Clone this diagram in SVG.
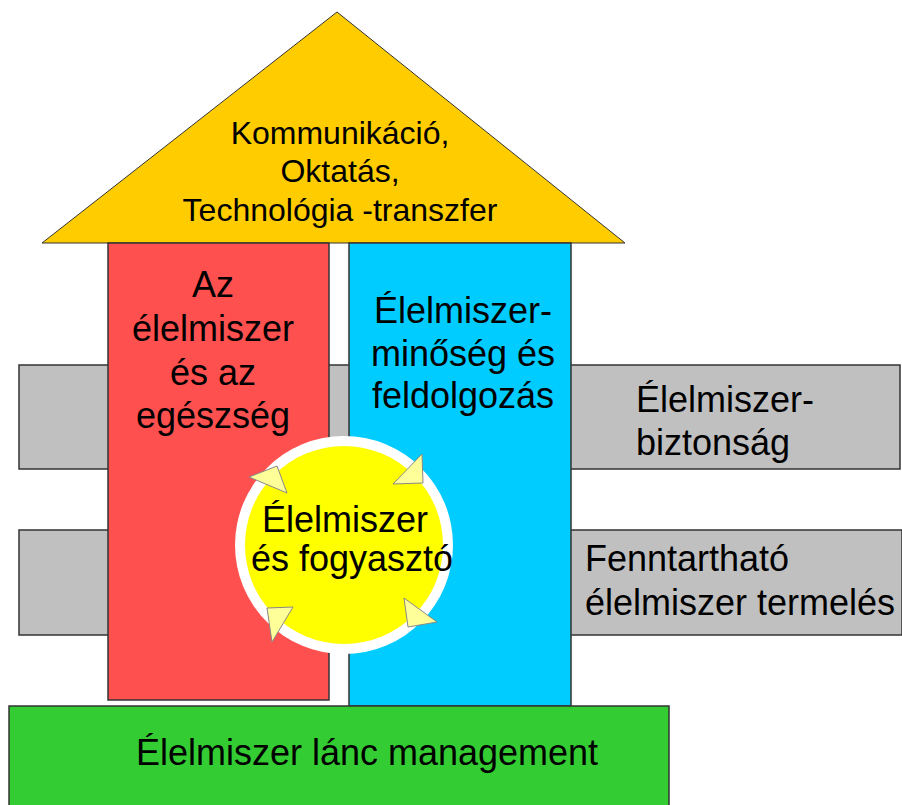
<svg xmlns="http://www.w3.org/2000/svg" width="902" height="805" viewBox="0 0 902 805">
<style>
text{font-family:"Liberation Sans",Arial,sans-serif;fill:#000;}
.t36{font-size:36px;}
.t32{font-size:32px;}
.mid{text-anchor:middle;}
.box{stroke:#333;stroke-width:1.5;}
.tri{fill:#FFFF99;stroke:#888;stroke-width:1;}
</style>
<rect width="902" height="805" fill="#fff"/>
<g id="bar-top"><rect class="box" x="19" y="365" width="881" height="104" fill="#C0C0C0"/></g>
<g id="bar-bottom"><rect class="box" x="19" y="530" width="883" height="105" fill="#C0C0C0"/></g>
<g id="roof">
<polygon points="337,12 42,243 625,243" fill="#FFCC00" stroke="#333" stroke-width="1"/>
<text class="t32 mid" x="340" y="144">Kommunikáció,</text>
<text class="t32 mid" x="340" y="182">Oktatás,</text>
<text class="t32 mid" x="340" y="221">Technológia -transzfer</text>
</g>
<g id="pillar-red">
<rect class="box" x="108" y="243" width="221" height="457" fill="#FF5050"/>
<text class="t36 mid" x="213" y="297">Az</text>
<text class="t36 mid" x="213" y="341">élelmiszer</text>
<text class="t36 mid" x="213" y="385">és az</text>
<text class="t36 mid" x="213" y="428">egészség</text>
</g>
<g id="pillar-blue">
<rect class="box" x="349" y="243" width="222" height="463" fill="#00CCFF"/>
<text class="t36 mid" x="463" y="323">Élelmiszer-</text>
<text class="t36 mid" x="463" y="366">minőség és</text>
<text class="t36 mid" x="463" y="408">feldolgozás</text>
</g>
<g id="label-safety">
<text class="t36" x="636" y="412">Élelmiszer-</text>
<text class="t36" x="636" y="455">biztonság</text>
</g>
<g id="label-sustainable">
<text class="t36" x="585" y="571">Fenntartható</text>
<text class="t36" x="585" y="615">élelmiszer termelés</text>
</g>
<g id="base">
<rect class="box" x="9" y="706" width="660" height="100" fill="#33CC33"/>
<text class="t36 mid" x="367" y="765">Élelmiszer lánc management</text>
</g>
<g id="circle">
<circle cx="344" cy="545" r="109" fill="#fff"/>
<circle cx="344" cy="545" r="99" fill="#FFFF00"/>
<text class="t36 mid" x="345" y="532">Élelmiszer</text>
<text class="t36 mid" x="352" y="571">és fogyasztó</text>
</g>
<g id="connectors">
<polygon class="tri" points="249,477 277,466 287,493"/>
<polygon class="tri" points="393,484 422,454 423,483"/>
<polygon class="tri" points="267,608 293,607 272,642"/>
<polygon class="tri" points="404,598 437,622 408,627"/>
</g>
</svg>
